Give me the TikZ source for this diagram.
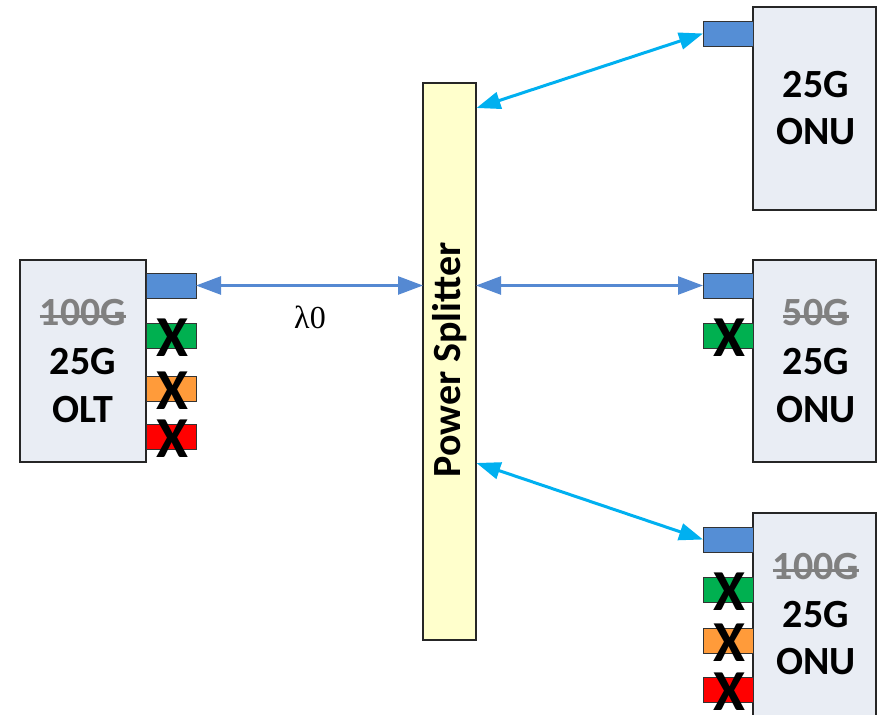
\documentclass[tikz,border=0pt]{standalone}
\usepackage{fontspec}
\setmainfont{Carlito}
\newfontfamily\lamfont{Liberation Serif}
\usetikzlibrary{arrows.meta}
\definecolor{boxfill}{HTML}{E9EDF4}
\definecolor{portblue}{HTML}{558ED5}
\definecolor{portgreen}{HTML}{00B050}
\definecolor{portorange}{HTML}{FF9B3A}
\definecolor{portred}{HTML}{FF0000}
\definecolor{splitfill}{HTML}{FFFFCC}
\definecolor{cyanline}{HTML}{00B0F0}
\definecolor{blueline}{HTML}{5589D2}
\definecolor{oldgray}{HTML}{808080}
\begin{document}
\begin{tikzpicture}[x=1pt,y=-1pt,
  dev/.style={draw=black!85, line width=1.2pt, fill=boxfill, inner sep=0pt, outer sep=0pt, anchor=north west},
  port/.style={draw=black!80, line width=0.8pt, inner sep=0pt, outer sep=0pt, minimum width=50pt, minimum height=25pt, anchor=north west},
  lbl/.style={font=\fontsize{40}{44}\selectfont\bfseries, inner sep=0pt},
  old/.style={lbl, text=oldgray},
  strike/.style={draw=oldgray, line width=3pt},
  xmark/.style={font=\fontsize{58}{62}\selectfont\bfseries, inner sep=0pt},
  cyanarrow/.style={draw=cyanline, line width=3pt, {Triangle[length=24pt,width=17pt]}-{Triangle[length=24pt,width=17pt]}},
  bluearrow/.style={draw=blueline, line width=2.6pt, {Triangle[length=25pt,width=18pt]}-{Triangle[length=25pt,width=18pt]}}
]
\useasboundingbox (0,0) rectangle (877,714);
\clip (0,0) rectangle (877,714);

% OLT
\node[dev, minimum width=126pt, minimum height=202pt] (olt) at (20,260) {};
\node[port, fill=portblue] (op1) at (146,273) {};
\node[port, fill=portgreen] (op2) at (146,323) {};
\node[port, fill=portorange] (op3) at (146,376) {};
\node[port, fill=portred] (op4) at (146,424) {};
\node[old] (ot1) at (83,313) {100G};
\draw[strike] ([yshift=-3pt]ot1.west) -- ([yshift=-3pt]ot1.east);
\node[lbl] (ot2) at (83,362) {25G};
\node[lbl] (ot3) at (83,410) {OLT};
\node[xmark] (ox2) at ([xshift=1pt,yshift=-2pt]op2.center) {X};
\node[xmark] (ox3) at ([xshift=1pt,yshift=-2pt]op3.center) {X};
\node[xmark] (ox4) at ([xshift=1pt,yshift=-2pt]op4.center) {X};

% Splitter
\node[dev, fill=splitfill, minimum width=53pt, minimum height=557pt] (sp) at (423,83) {};
\node[lbl, rotate=90] (spt) at (450,360) {Power Splitter};

% ONU 1
\node[dev, minimum width=123pt, minimum height=203pt] (onu1) at (753,7) {};
\node[port, fill=portblue] (a1) at (703,21) {};
\node[lbl] (at2) at (816,85) {25G};
\node[lbl] (at3) at (816,132) {ONU};

% ONU 2
\node[dev, minimum width=123pt, minimum height=202pt] (onu2) at (753,260) {};
\node[port, fill=portblue] (b1) at (703,273) {};
\node[port, fill=portgreen] (b2) at (703,323) {};
\node[old] (bt1) at (816,313) {50G};
\draw[strike] ([yshift=-3pt]bt1.west) -- ([yshift=-3pt]bt1.east);
\node[lbl] (bt2) at (816,362) {25G};
\node[lbl] (bt3) at (816,410) {ONU};
\node[xmark] (bx2) at ([xshift=1pt,yshift=-2pt]b2.center) {X};

% ONU 3
\node[dev, minimum width=123pt, minimum height=220pt] (onu3) at (753,513) {};
\node[port, fill=portblue] (c1) at (703,527) {};
\node[port, fill=portgreen] (c2) at (703,577) {};
\node[port, fill=portorange] (c3) at (703,628) {};
\node[port, fill=portred] (c4) at (703,677) {};
\node[old] (ct1) at (816,567) {100G};
\draw[strike] ([yshift=-3pt]ct1.west) -- ([yshift=-3pt]ct1.east);
\node[lbl] (ct2) at (816,615) {25G};
\node[lbl] (ct3) at (816,662) {ONU};
\node[xmark] (cx2) at ([xshift=1pt,yshift=-2pt]c2.center) {X};
\node[xmark] (cx3) at ([xshift=1pt,yshift=-2pt]c3.center) {X};
\node[xmark] (cx4) at ([xshift=1pt,yshift=-2pt]c4.center) {X};

% connection points on splitter
\coordinate (s1) at (476.5,108);
\coordinate (s3) at (476.5,463);

% connectors
\draw[bluearrow] (op1.east) -- (op1.east -| sp.west);
\draw[bluearrow] (b1.west -| sp.east) -- (b1.west);
\draw[cyanarrow] (s1) -- (a1.west);
\draw[cyanarrow] (s3) -- (c1.west);

\node[font=\lamfont\fontsize{32}{34}\selectfont, inner sep=0pt] (lam) at (310,317) {λ0};
\end{tikzpicture}
\end{document}
